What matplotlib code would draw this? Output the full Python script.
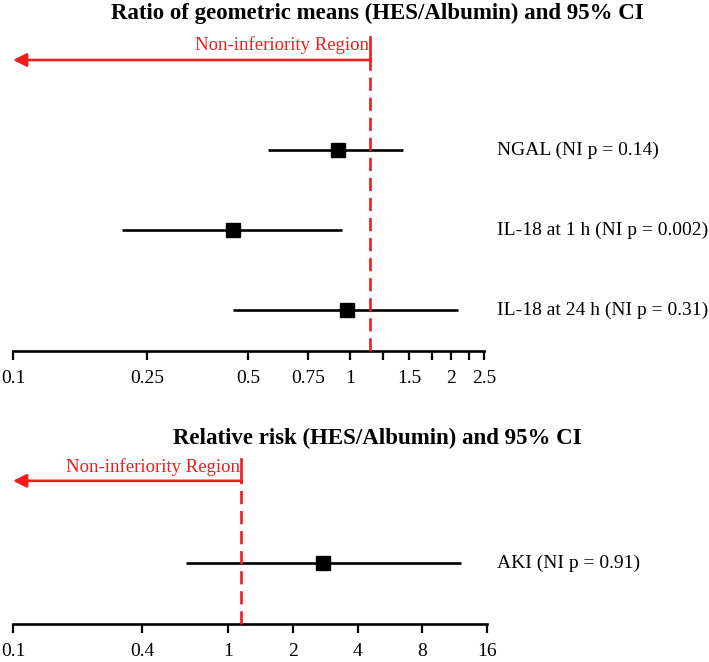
import matplotlib
matplotlib.use("Agg")
import matplotlib.pyplot as plt
import matplotlib.transforms as mtransforms
from matplotlib.ticker import FixedLocator, NullFormatter

plt.rcParams['font.family'] = ['Liberation Serif', 'DejaVu Serif']

# ratio of geometric means (HES/Albumin)
top_labels = ["NGAL (NI p = 0.14)", "IL-18 at 1 h (NI p = 0.002)", "IL-18 at 24 h (NI p = 0.31)"]
top_est = [0.92, 0.45, 0.98]
top_lo = [0.57, 0.21, 0.45]
top_hi = [1.44, 0.95, 2.10]
top_ticks = [0.1, 0.25, 0.5, 0.75, 1, 1.5, 2, 2.5]
top_tick_labels = ["0.1", "0.25", "0.5", "0.75", "1", "1.5", "2", "2.5"]
top_minor = [1.25, 1.75, 2.25]

# relative risk
bot_labels = ["AKI (NI p = 0.91)"]
bot_est = [2.75]
bot_lo = [0.64]
bot_hi = [12.1]
bot_ticks = [0.1, 0.4, 1, 2, 4, 8, 16]
bot_tick_labels = ["0.1", "0.4", "1", "2", "4", "8", "16"]

ni_margin = 1.15

W, H = 709, 662
RED = '#ee1c1c'
fig = plt.figure(figsize=(W / 100, H / 100), dpi=100)


def px_axes(x0, y_top, x1, y_bot):
    return fig.add_axes([x0 / W, 1 - y_bot / H, (x1 - x0) / W, (y_bot - y_top) / H])


def forest(ax, labels, est, lo, hi, xlim, ticks, tick_labels, minor, ylim, arrow_y, text_y):
    n = len(labels)
    ys = list(range(n, 0, -1))
    ax.set_xscale('log')
    ax.set_xlim(*xlim)
    ax.set_ylim(*ylim)
    for y, e, l, h in zip(ys, est, lo, hi):
        ax.plot([l, h], [y, y], color='black', lw=1.9, solid_capstyle='butt', zorder=2)
        ax.plot(e, y, marker='s', color='black', ms=9.5, zorder=3)
    # non-inferiority margin
    ax.plot([ni_margin, ni_margin], [ylim[0], arrow_y], color=RED, lw=1.9,
            dashes=(5, 2.6), zorder=4, clip_on=False)
    ax.plot([ni_margin, ni_margin], [arrow_y, text_y + 0.1], color=RED, lw=1.9,
            zorder=4, clip_on=False)
    ax.annotate('', xy=(xlim[0], arrow_y), xytext=(ni_margin, arrow_y),
                arrowprops=dict(arrowstyle='-|>', color=RED, lw=1.9,
                                mutation_scale=20, shrinkA=0, shrinkB=0))
    ax.text(ni_margin / 1.01, text_y, 'Non-inferiority Region', color=RED,
            fontsize=13.5, ha='right', va='center')
    trans = mtransforms.blended_transform_factory(fig.transFigure, ax.transData)
    for y, lab in zip(ys, labels):
        ax.text(497 / W, y, lab, transform=trans, fontsize=14, ha='left', va='center')

    for s in ['top', 'left', 'right']:
        ax.spines[s].set_visible(False)
    ax.spines['bottom'].set_linewidth(1.9)
    ax.spines['bottom'].set_capstyle('projecting')
    ax.set_yticks([])
    ax.xaxis.set_major_locator(FixedLocator(ticks))
    ax.set_xticklabels(tick_labels)
    ax.xaxis.set_minor_locator(FixedLocator(minor))
    ax.xaxis.set_minor_formatter(NullFormatter())
    ax.tick_params(axis='x', which='both', direction='out', length=6.5, width=1.6,
                   labelsize=14, pad=7.5)
    ax.patch.set_alpha(0)


ax1 = px_axes(13, 30, 484, 351)
forest(ax1, top_labels, top_est, top_lo, top_hi, (0.1, 2.5), top_ticks, top_tick_labels,
       top_minor, (0.4875, 4.5), 4.125, 4.3125)

ax2 = px_axes(13, 450, 487, 624)
forest(ax2, bot_labels, bot_est, bot_lo, bot_hi, (0.1, 16), bot_ticks, bot_tick_labels,
       [], (0.2375, 2.425), 2.0375, 2.2125)

fig.text(377 / W, 1 - 13 / H, 'Ratio of geometric means (HES/Albumin) and 95% CI',
         fontsize=16.5, fontweight='bold', ha='center', va='center')
fig.text(377 / W, 1 - 438 / H, 'Relative risk (HES/Albumin) and 95% CI',
         fontsize=16.5, fontweight='bold', ha='center', va='center')

fig.savefig('out.png', dpi=100)
